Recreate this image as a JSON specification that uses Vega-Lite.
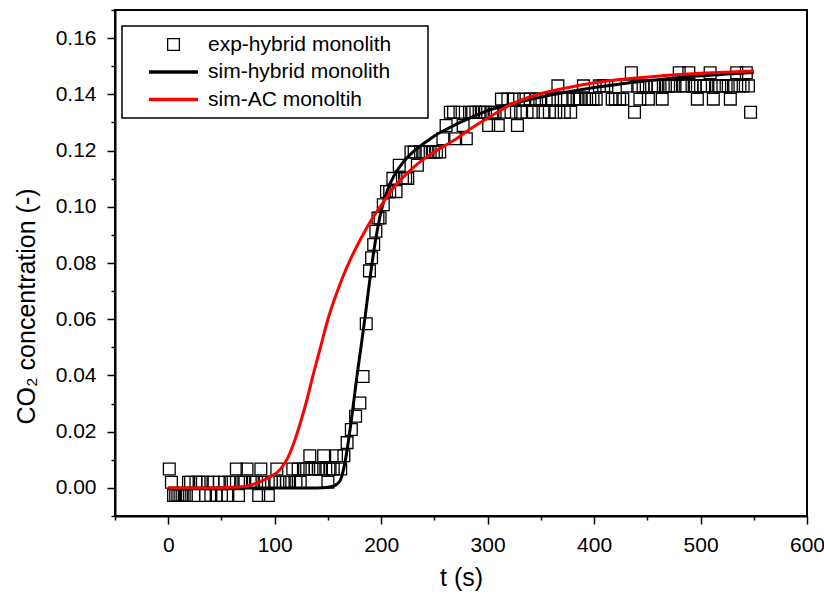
{
  "$schema": "https://vega.github.io/schema/vega-lite/v6.json",
  "autosize": {"type": "none"},
  "padding": {"left": 115, "top": 10, "right": 17, "bottom": 84},
  "width": 692,
  "height": 506,
  "background": "white",
  "config": {
    "font": "Liberation Sans",
    "view": {"stroke": "black", "strokeWidth": 2},
    "axis": {
      "grid": false,
      "domainColor": "black",
      "domainWidth": 2,
      "tickColor": "black",
      "tickWidth": 1.5,
      "labelFont": "Liberation Sans",
      "labelFontSize": 21,
      "labelColor": "black",
      "titleFont": "Liberation Sans",
      "titleFontSize": 25,
      "titleFontWeight": "normal",
      "titleColor": "black"
    },
    "legend": {
      "strokeWidth": 1.5,
      "orient": "none",
      "legendX": 7,
      "legendY": 16,
      "padding": 8,
      "fillColor": "white",
      "strokeColor": "black",
      "symbolSize": 600,
      "symbolOffset": 33,
      "labelOffset": 24,
      "labelFont": "Liberation Sans",
      "labelFontSize": 21,
      "labelColor": "black",
      "labelLimit": 400,
      "rowPadding": 5.5,
      "titleOrient": "right",
      "titlePadding": 29,
      "titleFontSize": 8
    }
  },
  "datasets": {
    "exp": [
      {"t":1,"c":0.0067},{"t":3,"c":0.0020},{"t":5,"c":-0.0027},{"t":7,"c":-0.0027},{"t":9,"c":-0.0027},{"t":11,"c":-0.0027},{"t":13,"c":-0.0027},{"t":15,"c":-0.0027},{"t":17,"c":-0.0027},{"t":19,"c":0.0020},{"t":21,"c":0.0020},{"t":24,"c":-0.0027},{"t":26,"c":0.0020},{"t":29,"c":0.0020},{"t":32,"c":0.0020},{"t":35,"c":-0.0027},{"t":37,"c":0.0020},{"t":40,"c":-0.0027},{"t":42,"c":0.0020},{"t":45,"c":-0.0027},{"t":48,"c":0.0020},{"t":50,"c":-0.0027},{"t":53,"c":0.0020},{"t":56,"c":-0.0027},{"t":58,"c":0.0020},{"t":61,"c":0.0020},{"t":64,"c":0.0067},{"t":66,"c":-0.0027},{"t":68,"c":0.0020},{"t":71,"c":0.0020},{"t":74,"c":0.0067},{"t":77,"c":0.0020},{"t":80,"c":0.0020},{"t":83,"c":0.0020},{"t":85,"c":-0.0027},{"t":87,"c":0.0067},{"t":90,"c":0.0020},{"t":94,"c":-0.0027},{"t":97,"c":0.0020},{"t":100,"c":0.0020},{"t":102,"c":0.0067},{"t":105,"c":0.0020},{"t":108,"c":0.0020},{"t":111,"c":0.0020},{"t":114,"c":0.0020},{"t":117,"c":0.0067},{"t":120,"c":0.0020},{"t":122,"c":0.0067},{"t":124,"c":0.0020},{"t":127,"c":0.0067},{"t":130,"c":0.0067},{"t":133,"c":0.0114},{"t":135,"c":0.0067},{"t":138,"c":0.0067},{"t":141,"c":0.0067},{"t":143,"c":0.0067},{"t":146,"c":0.0114},{"t":148,"c":0.0067},{"t":150,"c":0.0020},{"t":152,"c":0.0067},{"t":155,"c":0.0067},{"t":158,"c":0.0114},{"t":162,"c":0.0067},{"t":165,"c":0.0114},{"t":168,"c":0.0161},{"t":172,"c":0.0208},{"t":176,"c":0.0255},{"t":180,"c":0.0302},{"t":183,"c":0.0396},{"t":186,"c":0.0584},{"t":189,"c":0.0772},{"t":191,"c":0.0819},{"t":193,"c":0.0866},{"t":195,"c":0.0913},{"t":197,"c":0.0960},{"t":199,"c":0.0960},{"t":202,"c":0.1007},{"t":205,"c":0.1054},{"t":208,"c":0.1054},{"t":211,"c":0.1101},{"t":214,"c":0.1054},{"t":217,"c":0.1148},{"t":220,"c":0.1101},{"t":223,"c":0.1101},{"t":225,"c":0.1101},{"t":228,"c":0.1195},{"t":231,"c":0.1195},{"t":234,"c":0.1148},{"t":237,"c":0.1195},{"t":240,"c":0.1195},{"t":243,"c":0.1195},{"t":246,"c":0.1195},{"t":249,"c":0.1195},{"t":252,"c":0.1195},{"t":255,"c":0.1195},{"t":258,"c":0.1242},{"t":261,"c":0.1289},{"t":265,"c":0.1336},{"t":268,"c":0.1336},{"t":270,"c":0.1242},{"t":274,"c":0.1336},{"t":277,"c":0.1289},{"t":280,"c":0.1242},{"t":283,"c":0.1336},{"t":286,"c":0.1336},{"t":289,"c":0.1336},{"t":292,"c":0.1336},{"t":295,"c":0.1336},{"t":298,"c":0.1336},{"t":301,"c":0.1289},{"t":304,"c":0.1336},{"t":307,"c":0.1336},{"t":310,"c":0.1289},{"t":313,"c":0.1383},{"t":316,"c":0.1336},{"t":319,"c":0.1383},{"t":322,"c":0.1336},{"t":325,"c":0.1383},{"t":328,"c":0.1289},{"t":331,"c":0.1336},{"t":334,"c":0.1383},{"t":337,"c":0.1336},{"t":340,"c":0.1383},{"t":343,"c":0.1336},{"t":346,"c":0.1383},{"t":349,"c":0.1383},{"t":352,"c":0.1336},{"t":355,"c":0.1383},{"t":358,"c":0.1336},{"t":361,"c":0.1383},{"t":364,"c":0.1336},{"t":366,"c":0.1430},{"t":369,"c":0.1383},{"t":372,"c":0.1336},{"t":375,"c":0.1383},{"t":378,"c":0.1336},{"t":381,"c":0.1383},{"t":384,"c":0.1383},{"t":387,"c":0.1383},{"t":390,"c":0.1430},{"t":393,"c":0.1383},{"t":396,"c":0.1383},{"t":399,"c":0.1383},{"t":402,"c":0.1383},{"t":405,"c":0.1430},{"t":409,"c":0.1430},{"t":412,"c":0.1430},{"t":417,"c":0.1383},{"t":420,"c":0.1383},{"t":424,"c":0.1383},{"t":427,"c":0.1383},{"t":431,"c":0.1430},{"t":435,"c":0.1477},{"t":438,"c":0.1336},{"t":441,"c":0.1430},{"t":443,"c":0.1383},{"t":446,"c":0.1430},{"t":449,"c":0.1430},{"t":451,"c":0.1383},{"t":454,"c":0.1430},{"t":457,"c":0.1430},{"t":460,"c":0.1430},{"t":464,"c":0.1383},{"t":467,"c":0.1430},{"t":470,"c":0.1430},{"t":473,"c":0.1430},{"t":476,"c":0.1430},{"t":480,"c":0.1477},{"t":483,"c":0.1430},{"t":486,"c":0.1430},{"t":489,"c":0.1477},{"t":492,"c":0.1430},{"t":495,"c":0.1430},{"t":497,"c":0.1383},{"t":500,"c":0.1430},{"t":503,"c":0.1430},{"t":506,"c":0.1430},{"t":509,"c":0.1477},{"t":512,"c":0.1383},{"t":515,"c":0.1430},{"t":518,"c":0.1430},{"t":521,"c":0.1430},{"t":524,"c":0.1430},{"t":528,"c":0.1383},{"t":531,"c":0.1430},{"t":534,"c":0.1477},{"t":537,"c":0.1430},{"t":540,"c":0.1430},{"t":543,"c":0.1477},{"t":545,"c":0.1430},{"t":547,"c":0.1336}
    ],
    "simHybrid": [
      {"t":0,"c":0},{"t":50,"c":0},{"t":100,"c":0},{"t":140,"c":0},{"t":150,"c":0.0002},{"t":155,"c":0.0006},{"t":159,"c":0.0015},{"t":162,"c":0.003},{"t":164,"c":0.0055},{"t":166,"c":0.009},{"t":169,"c":0.016},{"t":173,"c":0.027},{"t":177,"c":0.039},{"t":181,"c":0.05},{"t":185,"c":0.061},{"t":189,"c":0.073},{"t":193,"c":0.084},{"t":197,"c":0.093},{"t":201,"c":0.1},{"t":206,"c":0.106},{"t":212,"c":0.111},{"t":220,"c":0.1155},{"t":230,"c":0.1195},{"t":240,"c":0.1225},{"t":250,"c":0.1252},{"t":265,"c":0.1283},{"t":280,"c":0.131},{"t":300,"c":0.1342},{"t":325,"c":0.1368},{"t":350,"c":0.139},{"t":375,"c":0.1408},{"t":400,"c":0.1424},{"t":425,"c":0.1437},{"t":450,"c":0.1448},{"t":475,"c":0.1458},{"t":500,"c":0.1466},{"t":525,"c":0.1472},{"t":550,"c":0.1478}
    ],
    "simAC": [
      {"t":0,"c":0},{"t":40,"c":0},{"t":60,"c":0.0002},{"t":75,"c":0.0008},{"t":85,"c":0.002},{"t":95,"c":0.0038},{"t":105,"c":0.0065},{"t":112,"c":0.0105},{"t":118,"c":0.016},{"t":124,"c":0.023},{"t":130,"c":0.031},{"t":136,"c":0.04},{"t":143,"c":0.05},{"t":150,"c":0.06},{"t":157,"c":0.068},{"t":165,"c":0.076},{"t":172,"c":0.082},{"t":180,"c":0.088},{"t":192,"c":0.096},{"t":200,"c":0.1005},{"t":211,"c":0.1065},{"t":222,"c":0.111},{"t":235,"c":0.1155},{"t":250,"c":0.1195},{"t":268,"c":0.1236},{"t":285,"c":0.128},{"t":300,"c":0.1315},{"t":320,"c":0.136},{"t":343,"c":0.1395},{"t":370,"c":0.142},{"t":405,"c":0.1444},{"t":440,"c":0.1458},{"t":470,"c":0.1468},{"t":500,"c":0.1475},{"t":525,"c":0.1479},{"t":550,"c":0.1483}
    ]
  },
  "encoding": {
    "x": {
      "field": "t", "type": "quantitative",
      "scale": {"domain": [-50, 600], "nice": false, "zero": false},
      "axis": {
        "title": "t (s)",
        "values": [-50, 0, 50, 100, 150, 200, 250, 300, 350, 400, 450, 500, 550, 600],
        "format": "d",
        "labelExpr": "datum.value % 100 === 0 ? datum.label : ''",
        "tickSize": {"condition": {"test": "datum.value % 100 === 0", "value": 8}, "value": 4},
        "labelPadding": 10,
        "titlePadding": 10,
        "labelFlush": false,
        "labelOverlap": false
      }
    },
    "y": {
      "field": "c", "type": "quantitative",
      "scale": {"domain": [-0.01, 0.17], "nice": false, "zero": false},
      "axis": {
        "title": "CO₂ concentration (-)",
        "titleY": 296,
        "values": [-0.01, 0, 0.01, 0.02, 0.03, 0.04, 0.05, 0.06, 0.07, 0.08, 0.09, 0.1, 0.11, 0.12, 0.13, 0.14, 0.15, 0.16, 0.17],
        "format": ".2f",
        "labelExpr": "round(datum.value * 100) % 2 === 0 ? format(datum.value, '.2f') : ''",
        "tickSize": {"condition": {"test": "round(datum.value * 100) % 2 === 0", "value": 8}, "value": 4},
        "labelPadding": 11,
        "titlePadding": 16,
        "labelFlush": false,
        "labelOverlap": false
      }
    }
  },
  "layer": [
    {
      "data": {"name": "exp"},
      "mark": {"type": "point", "filled": false, "size": 600, "opacity": 1, "strokeWidth": 1.3},
      "encoding": {
        "color": {"datum": "exp-hybrid monolith"},
        "shape": {
          "datum": "exp-hybrid monolith",
          "scale": {"domain": ["exp-hybrid monolith", "sim-hybrid monolith", "sim-AC monoltih"], "range": ["M-0.48,-0.48H0.48V0.48H-0.48Z", "M-2,0H2", "M-2,0H2"]},
          "legend": {
            "title": "\u00a0",
            "encode": {"symbols": {"update": {"strokeWidth": {"signal": "datum.value === 'exp-hybrid monolith' ? 1.3 : 3.5"}}}}
          }
        }
      }
    },
    {
      "data": {"name": "simHybrid"},
      "mark": {"type": "line", "interpolate": "monotone", "strokeWidth": 3},
      "encoding": {
        "color": {"datum": "sim-hybrid monolith"}
      }
    },
    {
      "data": {"name": "simAC"},
      "mark": {"type": "line", "interpolate": "monotone", "strokeWidth": 3},
      "encoding": {
        "color": {
          "datum": "sim-AC monoltih",
          "scale": {"domain": ["exp-hybrid monolith", "sim-hybrid monolith", "sim-AC monoltih"], "range": ["black", "black", "#ff0000"]},
          "legend": {
            "title": "\u00a0",
            "encode": {"symbols": {"update": {"strokeWidth": {"signal": "datum.value === 'exp-hybrid monolith' ? 1.3 : 3.5"}}}}
          }
        }
      }
    }
  ]
}
